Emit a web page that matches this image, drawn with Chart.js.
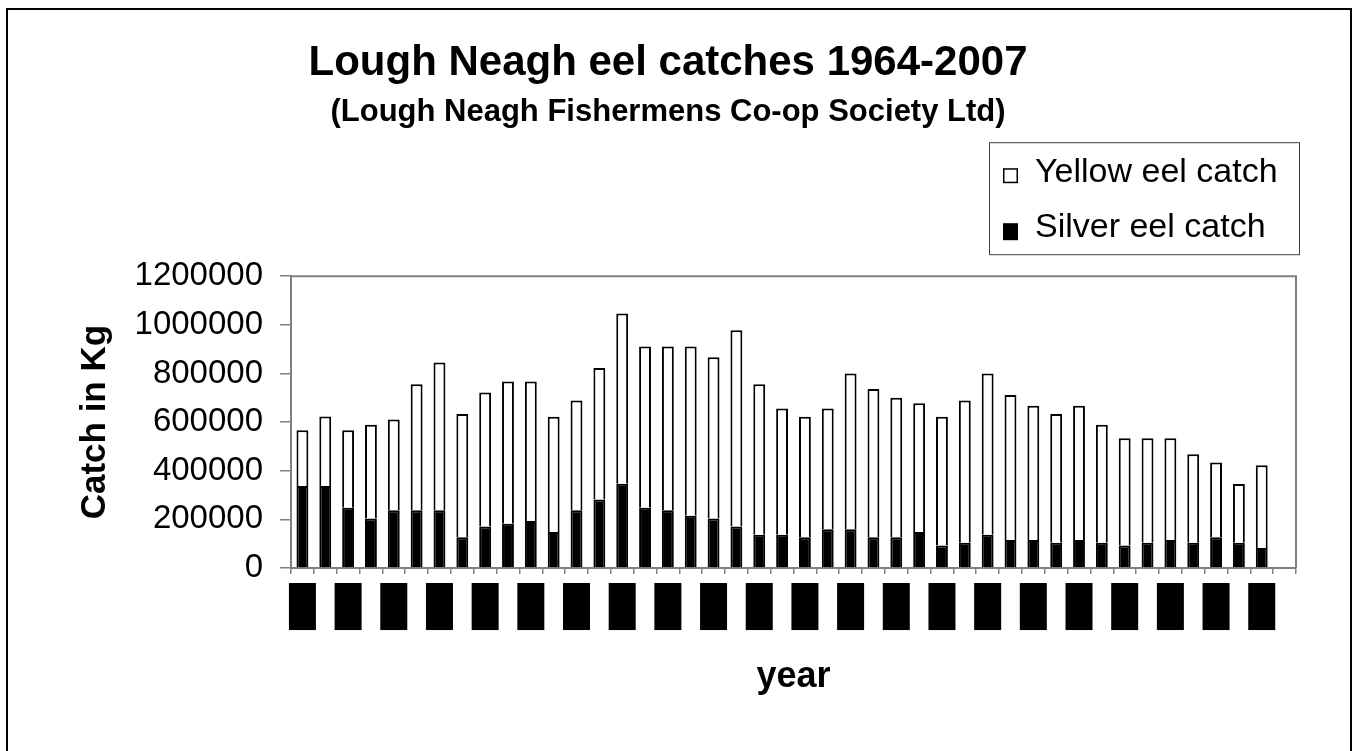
<!DOCTYPE html>
<html>
<head>
<meta charset="utf-8">
<script src="https://cdn.jsdelivr.net/npm/chart.js@4.4.1/dist/chart.umd.min.js"></script>
<style>
  html, body { margin: 0; padding: 0; background: #fff; overflow: hidden; }
  #frame { position: absolute; left: 6px; top: 8px; width: 1346px; height: 800px; border: 2px solid #000; box-sizing: border-box; }
  #c { position: absolute; left: 0; top: 0; }
</style>
</head>
<body>
<div id="frame"></div>
<canvas id="c" width="1355" height="751"></canvas>
<script>
const titleText = 'Lough Neagh eel catches 1964-2007';
const subtitleText = '(Lough Neagh Fishermens Co-op Society Ltd)';
const xTitle = 'year';
const yTitle = 'Catch in Kg';

const years = ['1964','1965','1966','1967','1968','1969','1970','1971','1972','1973','1974',
  '1975','1976','1977','1978','1979','1980','1981','1982','1983','1984','1985','1986','1987',
  '1988','1989','1990','1991','1992','1993','1994','1995','1996','1997','1998','1999','2000',
  '2001','2002','2003','2004','2005','2006','2007'];

const silverCatch = [337000,337000,248000,204000,237000,237000,237000,126000,171000,182000,193000,
  148000,237000,282000,346000,248000,237000,215000,204000,171000,137000,137000,126000,159000,
  159000,126000,126000,148000,93000,104000,137000,115000,115000,104000,115000,104000,93000,
  104000,115000,104000,126000,104000,82000,null];

const yellowCatch = [229000,286000,318000,385000,374000,519000,608000,507000,551000,585000,574000,
  474000,452000,540000,701000,663000,674000,696000,663000,807000,619000,519000,496000,497000,
  641000,610000,574000,530000,529000,585000,663000,596000,552000,529000,552000,485000,441000,
  430000,419000,364000,308000,241000,341000,null];

const yTickValues = [0,200000,400000,600000,800000,1000000,1200000];

const FONT = '"Liberation Sans", Arial, Helvetica, sans-serif';
Chart.defaults.font.family = FONT;
Chart.defaults.color = '#000';

const plotFrame = {
  id: 'plotFrame',
  beforeDatasetsDraw(chart) {
    const { ctx, chartArea: a } = chart;
    ctx.save();
    ctx.strokeStyle = '#808080';
    ctx.lineWidth = 2;
    ctx.beginPath();
    ctx.moveTo(a.left, a.top);
    ctx.lineTo(a.right, a.top);
    ctx.lineTo(a.right, a.bottom);
    ctx.stroke();
    ctx.restore();
  }
};

const legendBox = {
  id: 'legendBox',
  afterDraw(chart) {
    const { ctx, chartArea: a } = chart;
    const items = chart.data.datasets.slice().reverse();
    const right = a.right + 3;
    const left = a.right - 307;
    const top = a.top - 134;
    const height = 112;
    ctx.save();
    ctx.fillStyle = '#fff';
    ctx.fillRect(left, top, right - left, height);
    ctx.strokeStyle = '#404040';
    ctx.lineWidth = 1;
    ctx.strokeRect(left + 0.5, top + 0.5, right - left, height);
    ctx.font = '34px ' + FONT;
    ctx.textBaseline = 'middle';
    ctx.textAlign = 'left';
    items.forEach((d, i) => {
      const cy = top + 30 + i * 55;
      const iconX = left + 14, iconY = cy - 4, s = 15;
      if (d.backgroundColor === '#fff') {
        ctx.fillStyle = '#fff';
        ctx.fillRect(iconX, iconY, s, s);
        ctx.strokeStyle = '#000';
        ctx.lineWidth = 1.5;
        ctx.strokeRect(iconX + 0.75, iconY + 0.75, s - 1.5, s - 1.5);
      } else {
        ctx.fillStyle = d.backgroundColor;
        ctx.fillRect(iconX, iconY, s, s + 2);
      }
      ctx.fillStyle = '#000';
      ctx.fillText(d.label, left + 46, cy);
    });
    ctx.restore();
  }
};

new Chart(document.getElementById('c'), {
  type: 'bar',
  data: {
    labels: years,
    datasets: [
      { label: 'Silver eel catch', data: silverCatch, backgroundColor: '#000', borderColor: '#000',
        borderWidth: 2, barPercentage: 0.52, categoryPercentage: 1 },
      { label: 'Yellow eel catch', data: yellowCatch, backgroundColor: '#fff', borderColor: '#000',
        borderWidth: 2, barPercentage: 0.52, categoryPercentage: 1 }
    ]
  },
  options: {
    responsive: false,
    animation: false,
    devicePixelRatio: 1,
    layout: { padding: { left: 40, right: 59, top: 0, bottom: 0 } },
    plugins: {
      legend: { display: false },
      tooltip: { enabled: false },
      title: { display: true, text: titleText, color: '#000',
        font: { size: 42, weight: 'bold' }, padding: { top: 37.8, bottom: 0 } },
      subtitle: { display: true, text: subtitleText, color: '#000',
        font: { size: 31, weight: 'bold' }, padding: { top: 5.2, bottom: 145.6 } }
    },
    scales: {
      x: {
        stacked: true,
        grid: { display: true, drawOnChartArea: false, drawTicks: true, tickLength: 6,
          color: '#808080', lineWidth: 1.5, offset: true },
        border: { display: true, color: '#808080', width: 2 },
        ticks: {
          autoSkip: false, minRotation: 90, maxRotation: 90, color: '#000',
          font: { size: 18 }, padding: 12, labelOffset: -10.8,
          showLabelBackdrop: (c) => c.index % 2 === 0,
          backdropColor: '#000',
          backdropPadding: { top: 2.7, bottom: 2.7, left: 4, right: 3 },
          callback: (v, i) => (i % 2 === 0 ? years[i] : '')
        },
        title: { display: true, text: xTitle, color: '#000',
          font: { size: 36, weight: 'bold' }, padding: { top: 0, bottom: 52 } },
        afterFit: (s) => { s.height = 183; }
      },
      y: {
        stacked: true, min: 0, max: 1200000,
        afterBuildTicks: (s) => { s.ticks = yTickValues.map(v => ({ value: v })); },
        grid: { drawOnChartArea: false, drawTicks: true, tickLength: 11, color: '#808080', lineWidth: 1.5 },
        border: { display: true, color: '#808080', width: 2 },
        ticks: { color: '#000', font: { size: 33 }, padding: 17, callback: (v) => String(v) },
        title: { display: true, text: yTitle, color: '#000',
          font: { size: 35, weight: 'bold' }, padding: { top: 34, bottom: 0 } },
        afterFit: (s) => { s.width = 251; }
      }
    }
  },
  plugins: [plotFrame, legendBox]
});
</script>
</body>
</html>
